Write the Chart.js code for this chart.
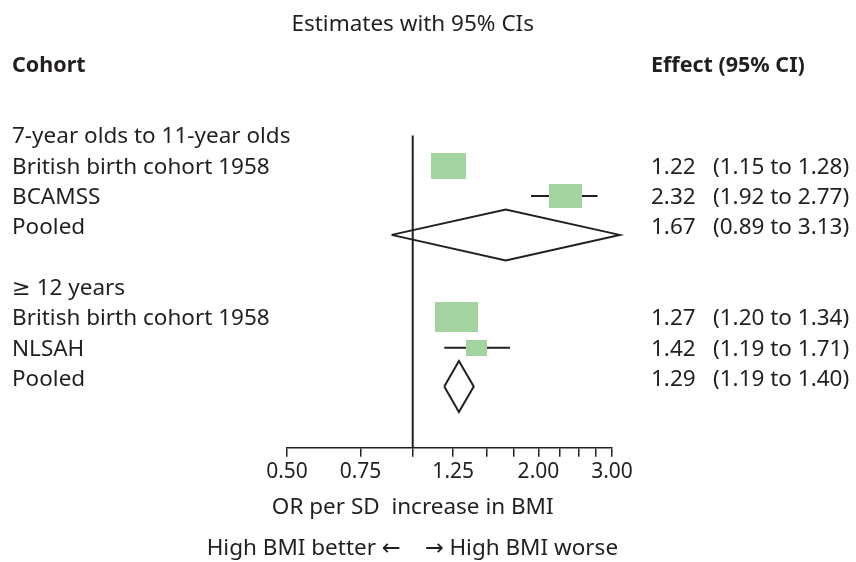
<!DOCTYPE html>
<html>
<head>
<meta charset="utf-8">
<title>Estimates with 95% CIs</title>
<script src="https://cdn.jsdelivr.net/npm/chart.js@4/dist/chart.umd.min.js"></script>
<style>
  body { margin: 0; background: #ffffff; }
  canvas { display: block; }
</style>
</head>
<body>
<canvas id="forestChart" width="856" height="562"></canvas>
<script>
'use strict';

// *********** DATA ***********
// one entry per text row, top to bottom (row index = position in the list)
let rowLabels = [
  '7-year olds to 11-year olds',
  'British birth cohort 1958',
  'BCAMSS',
  'Pooled',
  '',
  '\u2265 12 years',
  'British birth cohort 1958',
  'NLSAH',
  'Pooled'
];
let estimates = [null, 1.22, 2.32, 1.67, null, null, 1.27, 1.42, 1.29];
let lowerCI = [null, 1.15, 1.92, 0.89, null, null, 1.20, 1.19, 1.19];
let upperCI = [null, 1.28, 2.77, 3.13, null, null, 1.34, 1.71, 1.40];
let pooledRow = [false, false, false, true, false, false, false, false, true];

let tickValues = [0.5, 0.75, 1, 1.25, 1.5, 1.75, 2, 2.25, 2.5, 2.75, 3];
let tickLabels = ['0.50', '0.75', '', '1.25', '', '', '2.00', '', '', '', '3.00'];
let nullValue = 1;

// ********** STYLE ***********
let ink = '#231f20';
let boxGreen = 'rgb(163, 212, 160)';
let fontFamily = '"Noto Sans", "DejaVu Sans", sans-serif';
let fontSize = 22.5;
let boldSize = 21.5;
// box size (px) for each study row, looked up by row index
let boxSizes = { 1: [35, 26], 2: [33, 24], 6: [43, 30], 7: [21, 16] };
let diamondHalf = 0.84;   // in rows
let diamondShift = 0.28;  // in rows

// ********** HELPER FUNCTIONS *************
function makeBox(size) {
  let c = document.createElement('canvas');
  c.width = size[0];
  c.height = size[1];
  let g = c.getContext('2d');
  g.fillStyle = boxGreen;
  g.fillRect(0, 0, size[0], size[1]);
  return c;
}

function fmt(v) {
  return v.toFixed(2);
}

// ********** BUILD DATASETS ***********
let ciPoints = [];
let boxPoints = [];
let boxImages = [];
let diamondSets = [];

for (let i = 0; i < rowLabels.length; i++) {
  if (estimates[i] === null) {
    continue;
  }
  if (pooledRow[i]) {
    let y = i + diamondShift;
    diamondSets.push({
      data: [
        { x: lowerCI[i], y: y },
        { x: estimates[i], y: y - diamondHalf },
        { x: upperCI[i], y: y },
        { x: estimates[i], y: y + diamondHalf },
        { x: lowerCI[i], y: y }
      ],
      showLine: true,
      borderColor: ink,
      borderWidth: 2,
      borderJoinStyle: 'miter',
      pointRadius: 0,
      fill: false,
      clip: false,
      order: 1
    });
  } else {
    ciPoints.push({ x: lowerCI[i], y: i });
    ciPoints.push({ x: upperCI[i], y: i });
    ciPoints.push({ x: null, y: null });
    boxPoints.push({ x: estimates[i], y: i });
    boxImages.push(makeBox(boxSizes[i]));
  }
}

let datasets = [
  {
    // vertical line of no effect
    data: [{ x: nullValue, y: 0 }, { x: nullValue, y: 10.3 }],
    showLine: true,
    borderColor: ink,
    borderWidth: 2,
    pointRadius: 0,
    order: 3
  },
  {
    data: ciPoints,
    showLine: true,
    spanGaps: false,
    borderColor: ink,
    borderWidth: 2,
    pointRadius: 0,
    order: 2
  },
  {
    data: boxPoints,
    pointStyle: function (context) {
      return boxImages[context.dataIndex];
    },
    pointRadius: 3,
    order: 0
  }
].concat(diamondSets);

// ********** TEXT PLUGIN ***********
let textPlugin = {
  id: 'forestText',
  afterDraw: function (chart) {
    let g = chart.ctx;
    let xs = chart.scales.x;
    let ys = chart.scales.y;
    let midX = xs.getPixelForValue(nullValue);

    function put(text, x, row, align, bold) {
      let size = bold ? boldSize : fontSize;
      g.font = (bold ? 'bold ' : '') + size + 'px ' + fontFamily;
      g.textAlign = align;
      g.fillText(text, x, ys.getPixelForValue(row) + size * 0.357);
    }

    g.save();
    g.fillStyle = ink;
    g.textBaseline = 'alphabetic';

    put('Estimates with 95% CIs', midX, -3.72, 'center', false);
    put('Cohort', 12, -2.33, 'left', true);
    put('Effect (95% CI)', 651, -2.33, 'left', true);

    for (let i = 0; i < rowLabels.length; i++) {
      put(rowLabels[i], 12, i, 'left', false);
      if (estimates[i] !== null) {
        put(fmt(estimates[i]), 651, i, 'left', false);
        put('(' + fmt(lowerCI[i]) + ' to ' + fmt(upperCI[i]) + ')', 713, i, 'left', false);
      }
    }

    put('OR per SD  increase in BMI', midX, 12.22, 'center', false);
    put('High BMI better \u2190', midX - 12, 13.57, 'right', false);
    put('\u2192 High BMI worse', midX + 12, 13.57, 'left', false);
    g.restore();
  }
};

// ********* CHART *******************
let ctx = document.getElementById('forestChart').getContext('2d');

let forestChart = new Chart(ctx, {
  type: 'scatter',
  data: { datasets: datasets },
  options: {
    responsive: false,
    animation: false,
    layout: {
      padding: { left: 287, right: 244, top: 0, bottom: 74 }
    },
    scales: {
      x: {
        type: 'logarithmic',
        min: 0.5,
        max: 3,
        afterBuildTicks: function (axis) {
          axis.ticks = tickValues.map(function (v) { return { value: v }; });
        },
        ticks: {
          autoSkip: false,
          maxRotation: 0,
          color: ink,
          font: { family: fontFamily, size: 21 },
          callback: function (value, index) {
            return tickLabels[index];
          }
        },
        grid: {
          drawOnChartArea: false,
          tickLength: 9,
          color: ink,
          lineWidth: 1.5
        },
        border: { color: ink, width: 1.5 }
      },
      y: {
        type: 'linear',
        reverse: true,
        min: -4.3,
        max: 10.3,
        display: false
      }
    },
    plugins: {
      legend: { display: false },
      tooltip: { enabled: false }
    }
  },
  plugins: [textPlugin]
});
</script>
</body>
</html>
